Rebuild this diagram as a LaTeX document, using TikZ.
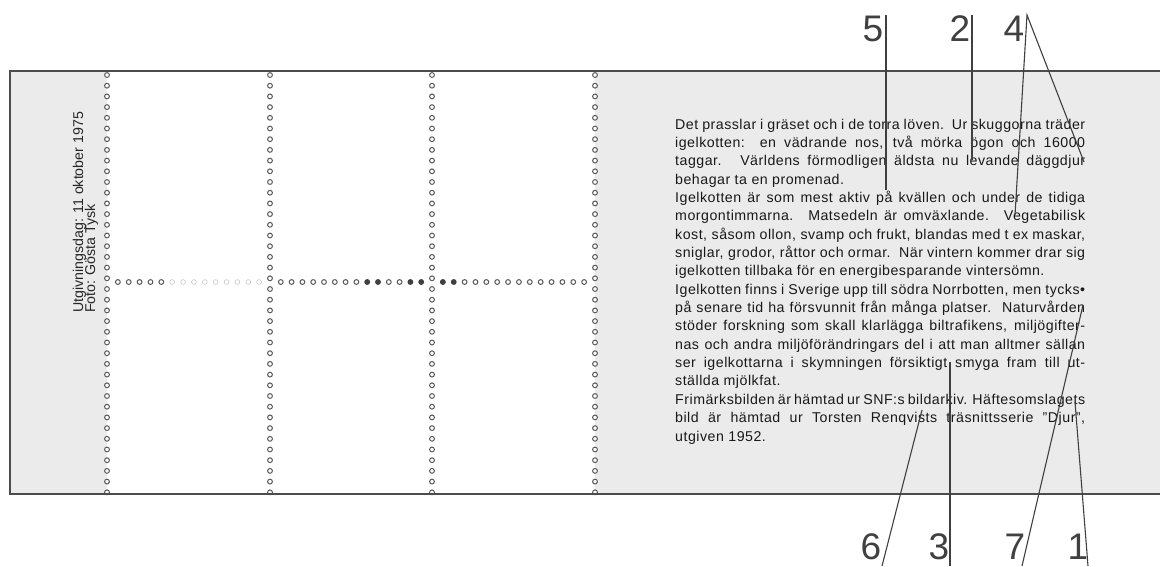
\documentclass[tikz,border=0pt]{standalone}
\usepackage{fontspec}
\setmainfont{Liberation Sans}
\newfontfamily\bodyfont[LetterSpace=3.5]{Liberation Sans}
\newcommand\jl[1]{\hbox to 410pt{\spaceskip=.2em plus 1fill\relax #1}}
\newcommand\rl[1]{\hbox{#1}}
\begin{document}
\begin{tikzpicture}[x=1pt,y=-1pt,
  frame/.style={draw=black!70,line width=1.6pt},
  paper/.style={fill=black!8},
  perf/.style={draw=black!65,fill=white,line width=1pt},
  perffaint/.style={draw=black!22,fill=white,line width=0.6pt},
  perfdark/.style={draw=black!75,fill=black!75,line width=1pt},
  num/.style={font=\fontsize{37}{37}\selectfont,text=black!75,inner sep=0pt},
  leader/.style={draw=black!75,line width=1.1pt},
  body/.style={font=\bodyfont\fontsize{14.2}{18.35}\selectfont,text=black!90,inner sep=0pt},
  side/.style={font=\fontsize{14.2}{12}\selectfont,text=black!85,inner sep=0pt}]
\useasboundingbox (0,0) rectangle (1160,566);
\fill[white] (0,0) rectangle (1160,566);
% paper margins
\fill[paper] (10,71) rectangle (107,494);
\fill[paper] (595,71) rectangle (1160,494);
% perforations
\foreach \x in {107,270,432,595}{
  \foreach \i in {0,...,39}{\draw[perf] (\x,{75+\i*10.7}) circle (2.4pt);}}
\foreach \k in {1,...,5}{\draw[perf] ({107+\k*163/15},282) circle (2.4pt);}
\foreach \k in {6,...,14}{\draw[perffaint] ({107+\k*163/15},282) circle (2.4pt);}
\foreach \k in {1,...,8,11,12}{\draw[perf] ({270+\k*162/15},282) circle (2.4pt);}
\foreach \k in {9,10,13,14}{\draw[perfdark] ({270+\k*162/15},282) circle (2.4pt);}
\foreach \k in {3,...,14}{\draw[perf] ({432+\k*163/15},282) circle (2.4pt);}
\foreach \k in {1,2}{\draw[perfdark] ({432+\k*163/15},282) circle (2.4pt);}
% frame
\draw[frame] (1160,71) -- (10,71) -- (10,494) -- (1160,494);
% side text
\node[side, rotate=90, anchor=base west] (utg) at (83,313) {Utgivningsdag: 11 oktober 1975};
\node[side, rotate=90, anchor=base west] (foto) at (95,313) {Foto: Gösta Tysk};
% body text
\node[body, anchor=base west] (txt) at (675,441) {\vbox{\baselineskip=18.35pt\lineskiplimit=-20pt
\jl{Det prasslar i gräset och i de torra löven. Ur skuggorna träder}
\jl{igelkotten: en vädrande nos, två mörka ögon och 16000}
\jl{taggar. Världens förmodligen äldsta nu levande däggdjur}
\rl{behagar ta en promenad.}
\jl{Igelkotten är som mest aktiv på kvällen och under de tidiga}
\jl{morgontimmarna. Matsedeln är omväxlande. Vegetabilisk}
\jl{kost, såsom ollon, svamp och frukt, blandas med t ex maskar,}
\jl{sniglar, grodor, råttor och ormar. När vintern kommer drar sig}
\rl{igelkotten tillbaka för en energibesparande vintersömn.}
\jl{Igelkotten finns i Sverige upp till södra Norrbotten, men tycks•}
\jl{på senare tid ha försvunnit från många platser. Naturvården}
\jl{stöder forskning som skall klarlägga biltrafikens, miljögifter-}
\jl{nas och andra miljöförändringars del i att man alltmer sällan}
\jl{ser igelkottarna i skymningen försiktigt smyga fram till ut-}
\rl{ställda mjölkfat.}
\jl{Frimärksbilden är hämtad ur SNF:s bildarkiv. Häftesomslagets}
\jl{bild är hämtad ur Torsten Renqvists träsnittsserie ”Djur”,}
\rl{utgiven 1952.}}};
% number labels
\node[num] (n5) at (873,29) {5};
\node[num] (n2) at (960,29) {2};
\node[num] (n4) at (1014,29) {4};
\node[num] (n6) at (871,547) {6};
\node[num] (n3) at (939,547) {3};
\node[num] (n7) at (1015,547) {7};
\node[num] (n1) at (1078,547) {1};
% leader end points
\coordinate (s5) at (886,15);   \coordinate (e5) at (886,190);
\coordinate (s2) at (972,15);   \coordinate (e2) at (972,160);
\coordinate (s4) at (1027,15);  \coordinate (e4a) at (1015,215); \coordinate (e4b) at (1084,162);
\coordinate (s6) at (882,566);  \coordinate (e6) at (922,410);
\coordinate (s3) at (950,566);  \coordinate (e3) at (950,362);
\coordinate (s7) at (1022,566); \coordinate (e7) at (1083,305);
\coordinate (s1) at (1088,566); \coordinate (e1) at (1075,402);
\draw[leader] (s5) -- (e5);
\draw[leader] (s2) -- (e2);
\draw[leader] (e4a) -- (s4) -- (e4b);
\draw[leader] (s6) -- (e6);
\draw[leader] (s3) -- (e3);
\draw[leader] (s7) -- (e7);
\draw[leader] (s1) -- (e1);
\end{tikzpicture}
\end{document}
